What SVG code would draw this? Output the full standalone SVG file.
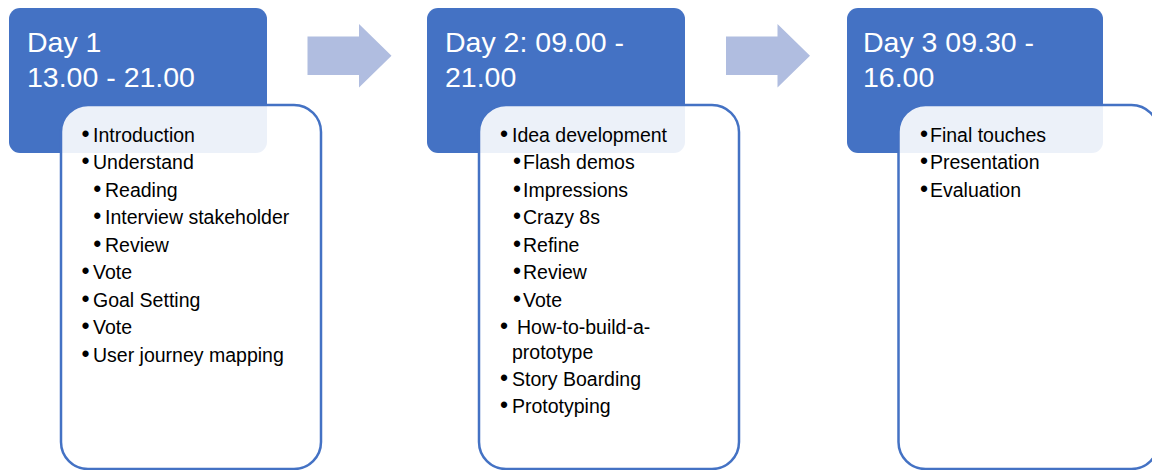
<svg xmlns="http://www.w3.org/2000/svg" width="1152" height="470" viewBox="0 0 1152 470">
  <style>
    .hdr { fill: #4472C4; }
    .card { fill: #FFFFFF; fill-opacity: 0.9; stroke: #4472C4; stroke-width: 2.5; }
    .arrow { fill: #B0BDE0; }
    .ht { font-family: "Liberation Sans", Arial, sans-serif; font-size: 28.5px; fill: #FFFFFF; }
    .bt { font-family: "Liberation Sans", Arial, sans-serif; font-size: 19.5px; fill: #000000; }
    .b { font-size: 23px; }
  </style>
  <rect width="1152" height="470" fill="#FFFFFF"/>

  <g id="connectors">
    <polygon class="arrow" points="307.5,36.5 359,36.5 359,24 391.5,55.8 359,87.5 359,75 307.5,75"/>
    <polygon class="arrow" points="726,36.5 777.5,36.5 777.5,24 810,55.8 777.5,87.5 777.5,75 726,75"/>
  </g>

  <g id="day1">
    <rect class="hdr" x="9" y="8" width="258" height="145" rx="11"/>
    <text class="ht"><tspan x="27" y="51.5">Day 1</tspan><tspan x="27" y="87">13.00 - 21.00</tspan></text>
    <rect class="card" x="61" y="105" width="260" height="364" rx="27"/>
    <g class="bt">
      <text y="141.5"><tspan class="b" x="81.5">•</tspan><tspan x="93">Introduction</tspan></text>
      <text y="169"><tspan class="b" x="81.5">•</tspan><tspan x="93">Understand</tspan></text>
      <text y="196.5"><tspan class="b" x="93.3">•</tspan><tspan x="105">Reading</tspan></text>
      <text y="224"><tspan class="b" x="93.3">•</tspan><tspan x="105">Interview stakeholder</tspan></text>
      <text y="251.5"><tspan class="b" x="93.3">•</tspan><tspan x="105">Review</tspan></text>
      <text y="279"><tspan class="b" x="81.5">•</tspan><tspan x="93">Vote</tspan></text>
      <text y="306.5"><tspan class="b" x="81.5">•</tspan><tspan x="93">Goal Setting</tspan></text>
      <text y="334"><tspan class="b" x="81.5">•</tspan><tspan x="93">Vote</tspan></text>
      <text y="361.5"><tspan class="b" x="81.5">•</tspan><tspan x="93">User journey mapping</tspan></text>
    </g>
  </g>

  <g id="day2">
    <rect class="hdr" x="427" y="8" width="258" height="145" rx="11"/>
    <text class="ht"><tspan x="445" y="51.5">Day 2: 09.00 -</tspan><tspan x="445" y="87">21.00</tspan></text>
    <rect class="card" x="479" y="105" width="260" height="364" rx="27"/>
    <g class="bt">
      <text y="141.5"><tspan class="b" x="500">•</tspan><tspan x="512">Idea development</tspan></text>
      <text y="169"><tspan class="b" x="513">•</tspan><tspan x="523">Flash demos</tspan></text>
      <text y="196.5"><tspan class="b" x="513">•</tspan><tspan x="523">Impressions</tspan></text>
      <text y="224"><tspan class="b" x="513">•</tspan><tspan x="523">Crazy 8s</tspan></text>
      <text y="251.5"><tspan class="b" x="513">•</tspan><tspan x="523">Refine</tspan></text>
      <text y="279"><tspan class="b" x="513">•</tspan><tspan x="523">Review</tspan></text>
      <text y="306.5"><tspan class="b" x="513">•</tspan><tspan x="523">Vote</tspan></text>
      <text y="333.5"><tspan class="b" x="500">•</tspan><tspan x="517">How-to-build-a-</tspan></text>
      <text y="358.5"><tspan x="512">prototype</tspan></text>
      <text y="386"><tspan class="b" x="500">•</tspan><tspan x="512">Story Boarding</tspan></text>
      <text y="412.5"><tspan class="b" x="500">•</tspan><tspan x="512">Prototyping</tspan></text>
    </g>
  </g>

  <g id="day3">
    <rect class="hdr" x="847" y="8" width="256" height="145" rx="11"/>
    <text class="ht"><tspan x="863" y="51.5">Day 3 09.30 -</tspan><tspan x="863" y="87">16.00</tspan></text>
    <rect class="card" x="898.5" y="105" width="260" height="364" rx="27"/>
    <g class="bt">
      <text y="141.5"><tspan class="b" x="920">•</tspan><tspan x="930">Final touches</tspan></text>
      <text y="169"><tspan class="b" x="920">•</tspan><tspan x="930">Presentation</tspan></text>
      <text y="196.5"><tspan class="b" x="920">•</tspan><tspan x="930">Evaluation</tspan></text>
    </g>
  </g>
</svg>
